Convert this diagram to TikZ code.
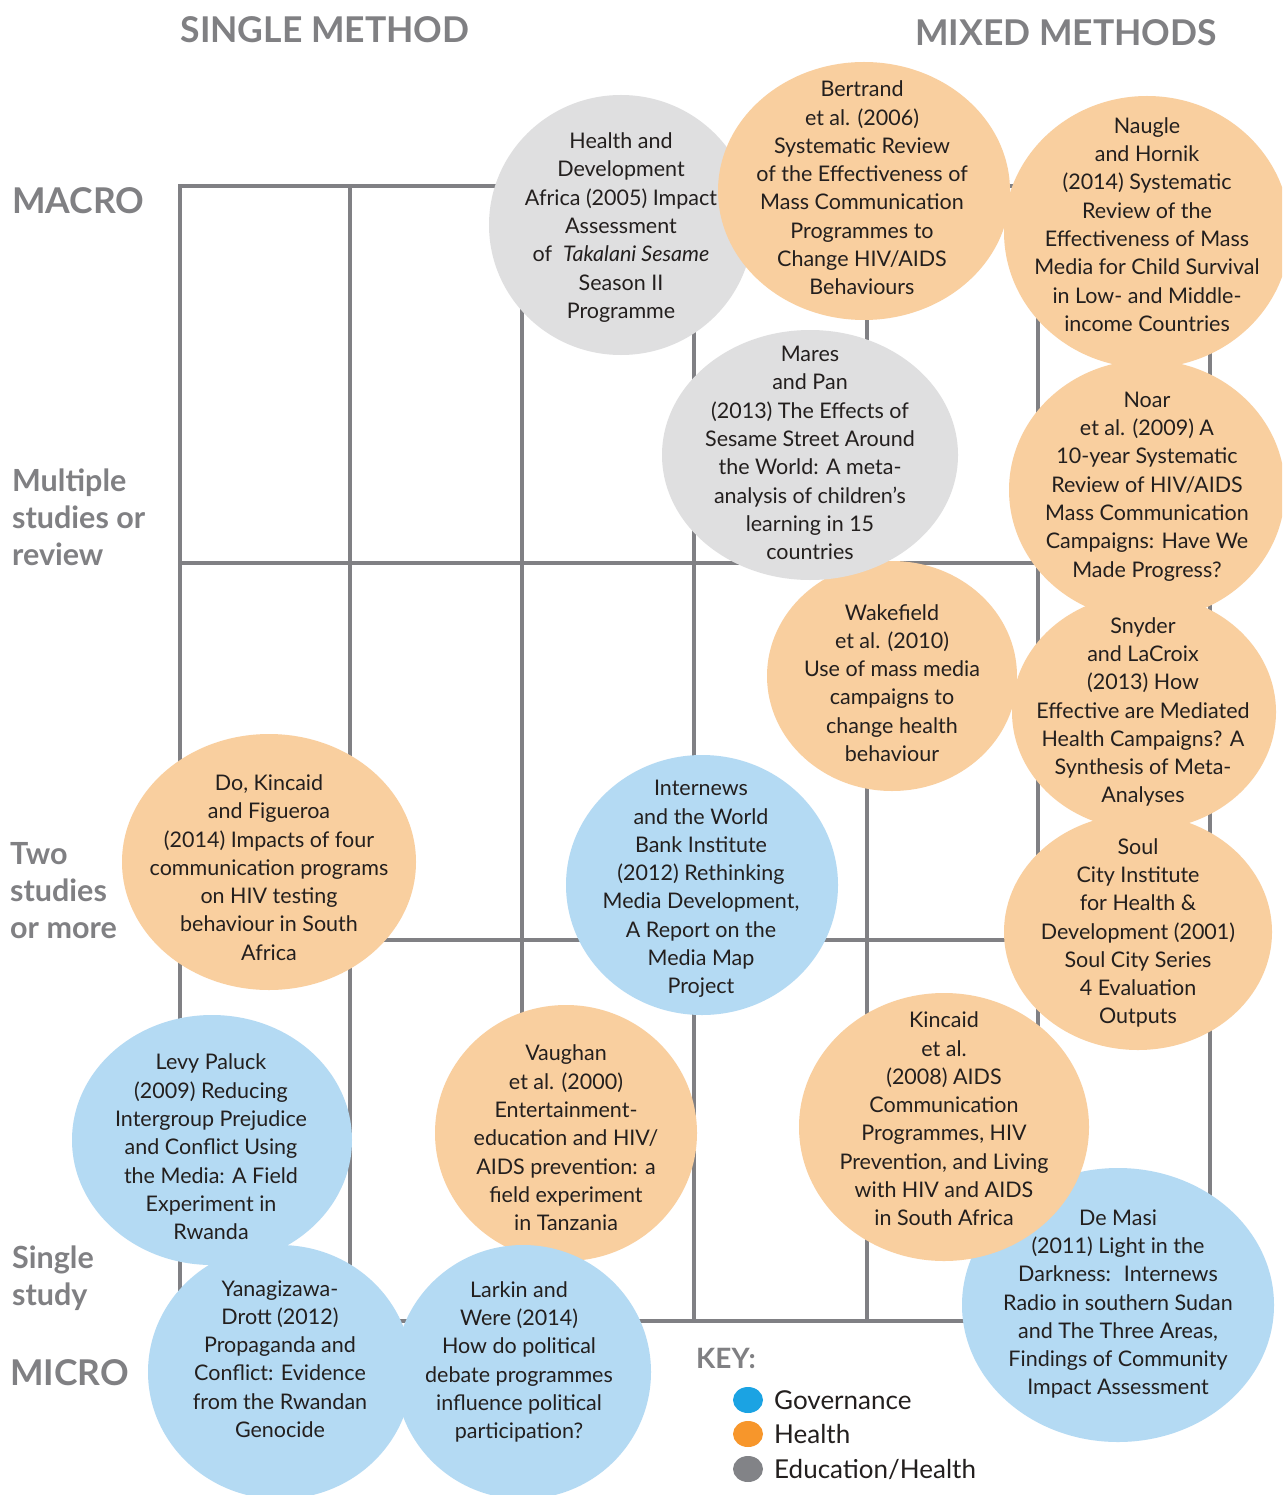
\documentclass[tikz,border=0pt]{standalone}
\usepackage{fontspec}
\setmainfont{Lato}
\usetikzlibrary{shapes.geometric}
\definecolor{peach}{HTML}{F9CF9F}
\definecolor{sky}{HTML}{B4DAF3}
\definecolor{lgray}{HTML}{DFDFE0}
\definecolor{gridc}{HTML}{808084}
\definecolor{headc}{HTML}{808083}
\definecolor{txt}{HTML}{231F1E}
\definecolor{keyblue}{HTML}{1BA3E3}
\definecolor{keyorange}{HTML}{F7962B}
\definecolor{keygray}{HTML}{828387}
\begin{document}
\begin{tikzpicture}[x=1pt,y=-1pt,
  blob/.style={ellipse, inner sep=0pt, draw=none},
  btext/.style={align=center, text=txt, font=\fontsize{21.5}{28.3}\selectfont, inner sep=0pt},
  head/.style={text=headc, font=\fontsize{35.5}{35}\selectfont\bfseries, inner sep=0pt},
  side/.style={text=headc, font=\fontsize{30.5}{37}\selectfont\bfseries, align=left, inner sep=0pt, anchor=west},
  keytext/.style={text=txt, font=\fontsize{26}{26}\selectfont, inner sep=0pt, anchor=west},
  gridline/.style={draw=gridc, line width=4.5pt, line cap=rect}
]
\useasboundingbox (0,0) rectangle (1282,1495);
\clip (0,0) rectangle (1282,1495);
\fill[white] (0,0) rectangle (1282,1495);

% grid
\foreach \x in {180,350,522,694,867,1038,1210} \draw[gridline] (\x,186) -- (\x,1321);
\foreach \y in {186,563,940,1321} \draw[gridline] (180,\y) -- (1210,\y);

% headings
\node[head] (hsingle) at (325,30) {SINGLE METHOD};
\node[head] (hmixed) at (1066,33) {MIXED METHODS};
\node[head, anchor=west] (hmacro) at (12,201) {MACRO};
\node[head, anchor=west] (hmicro) at (10,1373) {MICRO};
\node[side] (lmulti) at (12,517) {Multiple\\studies or\\review};
\node[side] (ltwo) at (10,891) {Two\\studies\\or more};
\node[side] (lsingle) at (12,1278) {Single\\study};

% circles
\node[blob, fill=lgray, minimum width=264pt, minimum height=260pt] (chda) at (621,225) {};
\node[blob, fill=peach, minimum width=292pt, minimum height=258pt] (cbertrand) at (864,191) {};
\node[blob, fill=peach, minimum width=286pt, minimum height=272pt] (cnaugle) at (1147,232) {};
\node[blob, fill=peach, minimum width=276pt, minimum height=260pt] (cnoar) at (1147,490) {};
\node[blob, fill=peach, minimum width=264pt, minimum height=236pt] (csnyder) at (1144,712) {};
\node[blob, fill=peach, minimum width=268pt, minimum height=236pt] (csoul) at (1138,932) {};
\node[blob, fill=peach, minimum width=250pt, minimum height=230pt] (cwake) at (892,676) {};
\node[blob, fill=lgray, minimum width=296pt, minimum height=250pt] (cmares) at (810,455) {};
\node[blob, fill=sky, minimum width=272pt, minimum height=260pt] (cintern) at (702,885) {};
\node[blob, fill=peach, minimum width=294pt, minimum height=256pt] (cdokin) at (269,862) {};
\node[blob, fill=peach, minimum width=262pt, minimum height=256pt] (cvaughan) at (566,1133) {};
\node[blob, fill=sky, minimum width=312pt, minimum height=274pt] (cdemasi) at (1118,1305) {};
\node[blob, fill=peach, minimum width=290pt, minimum height=268pt] (ckincaid) at (944,1127) {};
\node[blob, fill=sky, minimum width=280pt, minimum height=250pt] (clevy) at (212,1140) {};
\node[blob, fill=sky, minimum width=264pt, minimum height=254pt] (cyana) at (280,1372) {};
\node[blob, fill=sky, minimum width=256pt, minimum height=254pt] (clarkin) at (523,1372) {};

% texts
\node[btext] (thda) at (621,227.5) {Health and\\Development\\Africa (2005) Impact\\Assessment\\of~ \textit{Takalani Sesame}\\Season II\\Programme};
\node[btext] (tbertrand) at (862,188) {Bertrand\\et al. (2006)\\Systematic Review\\of the Effectiveness of\\Mass Communication\\Programmes to\\Change HIV/AIDS\\Behaviours};
\node[btext] (tnaugle) at (1147,224.5) {Naugle\\and Hornik\\(2014) Systematic\\Review of the\\Effectiveness of Mass\\Media for Child Survival\\in Low- and Middle-\\income Countries};
\node[btext] (tmares) at (810,453) {Mares\\and Pan\\(2013) The Effects of\\Sesame Street Around\\the World: A meta-\\analysis of children’s\\learning in 15\\countries};
\node[btext] (tnoar) at (1147,486.5) {Noar\\et al. (2009) A\\10-year Systematic\\Review of HIV/AIDS\\Mass Communication\\Campaigns: Have We\\Made Progress?};
\node[btext] (twake) at (892,683) {Wakefield\\et al. (2010)\\Use of mass media\\campaigns to\\change health\\behaviour};
\node[btext] (tsnyder) at (1143,712) {Snyder\\and LaCroix\\(2013) How\\Effective are Mediated\\Health Campaigns? A\\Synthesis of Meta-\\Analyses};
\node[btext] (tdokin) at (269,867.5) {Do, Kincaid\\and Figueroa\\(2014) Impacts of four\\communication programs\\on HIV testing\\behaviour in South\\Africa};
\node[btext] (tintern) at (701,889) {Internews\\and the World\\Bank Institute\\(2012) Rethinking\\Media Development,\\A Report on the\\Media Map\\Project};
\node[btext] (tsoul) at (1138,933) {Soul\\City Institute\\for Health \&\\Development (2001)\\Soul City Series\\4 Evaluation\\Outputs};
\node[btext] (tlevy) at (211,1147) {Levy Paluck\\(2009) Reducing\\Intergroup Prejudice\\and Conflict Using\\the Media: A Field\\Experiment in\\Rwanda};
\node[btext] (tvaughan) at (566,1138) {Vaughan\\et al. (2000)\\Entertainment-\\education and HIV/\\AIDS prevention: a\\field experiment\\in Tanzania};
\node[btext] (tkincaid) at (944,1119) {Kincaid\\et al.\\(2008) AIDS\\Communication\\Programmes, HIV\\Prevention, and Living\\with HIV and AIDS\\in South Africa};
\node[btext] (tdemasi) at (1118,1304) {De Masi\\(2011) Light in the\\Darkness:~ Internews\\Radio in southern Sudan\\and The Three Areas,\\Findings of Community\\Impact Assessment};
\node[btext] (tyana) at (280,1359) {Yanagizawa-\\Drott (2012)\\Propaganda and\\Conflict: Evidence\\from the Rwandan\\Genocide};
\node[btext] (tlarkin) at (519,1362) {Larkin and\\Were (2014)\\How do political\\debate programmes\\influence political\\participation?};

% key
\node[head, font=\fontsize{28}{28}\selectfont\bfseries, anchor=west] (keyhead) at (696,1358) {KEY:};
\node[blob, fill=keyblue, minimum width=30pt, minimum height=26pt] (kblue) at (748,1400) {};
\node[blob, fill=keyorange, minimum width=30pt, minimum height=26pt] (korange) at (748,1434) {};
\node[blob, fill=keygray, minimum width=30pt, minimum height=26pt] (kgray) at (748,1469) {};
\node[keytext] (kgov) at (774,1400) {Governance};
\node[keytext] (khealth) at (774,1434) {Health};
\node[keytext] (kedu) at (774,1469) {Education/Health};
\end{tikzpicture}
\end{document}
